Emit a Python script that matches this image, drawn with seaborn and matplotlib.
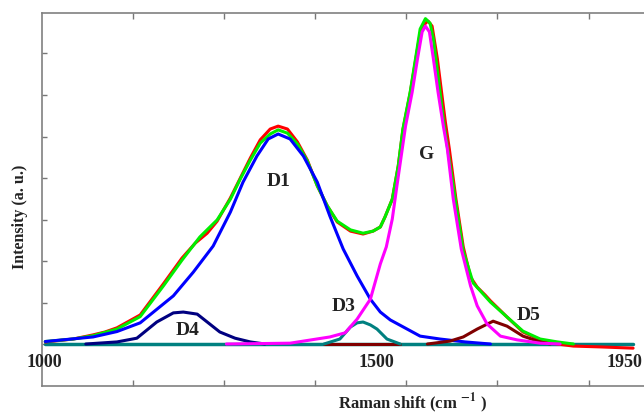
import numpy as np
import pandas as pd
import matplotlib
matplotlib.use('Agg')
import matplotlib.pyplot as plt
import seaborn as sns

# raman spectrum + band deconvolution
raman_x = [1005, 1047, 1077, 1095, 1113, 1148, 1183, 1211, 1231, 1249, 1264, 1284, 1299, 1314, 1329,
           1344, 1356, 1370, 1385, 1400, 1415, 1430, 1445, 1465, 1484, 1499, 1510, 1517, 1528, 1537,
           1544, 1555, 1563, 1570, 1578, 1582, 1588, 1596, 1603, 1608, 1614, 1624, 1635, 1646, 1656,
           1668, 1676, 1701, 1725, 1751, 1777, 1801, 1842, 1891]
raman_y = [0.05, 0.12, 0.22, 0.29, 0.39, 0.70, 1.45, 2.07, 2.43, 2.67, 2.96, 3.52, 4.00, 4.48, 4.92,
           5.18, 5.25, 5.18, 4.87, 4.43, 3.81, 3.33, 2.94, 2.72, 2.65, 2.72, 2.82, 3.06, 3.49, 4.29,
           5.16, 6.05, 6.82, 7.49, 7.73, 7.78, 7.66, 6.87, 5.98, 5.35, 4.70, 3.49, 2.34, 1.61, 1.37,
           1.18, 1.04, 0.65, 0.29, 0.10, 0.00, -0.05, -0.07, -0.10]

fit_x = [1005, 1047, 1077, 1113, 1148, 1183, 1211, 1238, 1264, 1284, 1299, 1314, 1329, 1344, 1356,
         1370, 1385, 1400, 1415, 1430, 1445, 1465, 1484, 1499, 1510, 1517, 1528, 1537, 1544, 1555,
         1563, 1570, 1578, 1585, 1590, 1597, 1605, 1612, 1623, 1635, 1650, 1676, 1701, 1725, 1751,
         1777, 1801]
fit_y = [0.06, 0.12, 0.20, 0.36, 0.66, 1.40, 2.02, 2.58, 2.99, 3.49, 3.98, 4.43, 4.84, 5.06, 5.16,
         5.08, 4.82, 4.41, 3.81, 3.33, 2.96, 2.75, 2.67, 2.72, 2.82, 3.06, 3.49, 4.29, 5.18, 6.07,
         6.87, 7.59, 7.84, 7.73, 7.35, 6.46, 5.42, 4.65, 3.49, 2.24, 1.47, 1.01, 0.65, 0.31, 0.12,
         0.05, 0.00]

d1_x = [1005, 1077, 1113, 1148, 1198, 1228, 1258, 1284, 1303, 1324, 1341, 1356, 1374, 1394, 1415,
        1434, 1454, 1475, 1495, 1510, 1525, 1570, 1600, 1638, 1676]
d1_y = [0.06, 0.17, 0.30, 0.51, 1.16, 1.73, 2.36, 3.18, 3.90, 4.53, 4.94, 5.06, 4.94, 4.53, 3.90,
        3.08, 2.29, 1.64, 1.08, 0.77, 0.58, 0.19, 0.12, 0.05, 0.00]

g_x = [1278, 1374, 1434, 1457, 1475, 1495, 1510, 1519, 1528, 1535, 1548, 1558, 1566, 1573, 1578,
       1584, 1590, 1597, 1605, 1611, 1620, 1632, 1646, 1656, 1671, 1691, 1716, 1751, 1781]
g_y = [0.00, 0.02, 0.17, 0.27, 0.60, 1.08, 1.93, 2.34, 3.01, 3.81, 5.25, 6.07, 6.87, 7.52, 7.66,
       7.52, 6.87, 6.07, 5.25, 4.70, 3.49, 2.29, 1.40, 0.92, 0.48, 0.19, 0.10, 0.02, 0.00]

d3_x = [1425, 1439, 1449, 1465, 1475, 1484, 1495, 1505, 1520, 1540]
d3_y = [0.00, 0.07, 0.12, 0.41, 0.51, 0.53, 0.46, 0.36, 0.12, 0.00]

d4_x = [1066, 1113, 1143, 1173, 1198, 1213, 1234, 1253, 1268, 1291, 1314, 1336]
d4_y = [0.00, 0.05, 0.14, 0.53, 0.75, 0.77, 0.72, 0.48, 0.29, 0.14, 0.05, 0.00]

d5_x = [1581, 1615, 1635, 1656, 1680, 1701, 1725, 1751, 1766]
d5_y = [0.00, 0.07, 0.17, 0.36, 0.55, 0.43, 0.19, 0.05, 0.00]

base_x = [1005, 1891]
base_y = [0.0, 0.0]
d5_base_x = [1425, 1540]
d5_base_y = [0.0, 0.0]

peak_names = ['D1', 'G', 'D3', 'D4', 'D5']
peak_label_x = [1356, 1579, 1454, 1219, 1733]
peak_label_y = [3.93, 4.58, 0.92, 0.36, 0.70]

xtick_text = ['1000', '1500', '1950']
xtick_text_x = [1003, 1504, 1878]

sns.set_style('ticks')
plt.rcParams['font.family'] = ['Liberation Serif', 'DejaVu Serif']
plt.rcParams['mathtext.fontset'] = 'stix'

fig = plt.figure(figsize=(6.44, 4.14), dpi=100)
ax = fig.add_axes([0.0652, 0.0652, 0.991, 0.901])

lw = 2.2
sns.lineplot(x=base_x, y=base_y, color='#008080', lw=2.5, ax=ax, zorder=2)
sns.lineplot(x=d5_base_x, y=d5_base_y, color='#800000', lw=lw, ax=ax, zorder=2)
sns.lineplot(x=raman_x, y=raman_y, color='#ff0000', lw=lw, ax=ax, zorder=3)
sns.lineplot(x=fit_x, y=fit_y, color='#00ee00', lw=lw, ax=ax, zorder=4)
sns.lineplot(x=d1_x, y=d1_y, color='#0000ff', lw=lw, ax=ax, zorder=5)
sns.lineplot(x=d4_x, y=d4_y, color='#000080', lw=lw, ax=ax, zorder=5)
sns.lineplot(x=d3_x, y=d3_y, color='#008080', lw=lw, ax=ax, zorder=5)
sns.lineplot(x=d5_x, y=d5_y, color='#800000', lw=lw, ax=ax, zorder=5)
sns.lineplot(x=g_x, y=g_y, color='#ff00ff', lw=lw, ax=ax, zorder=6)

for name, px, py in zip(peak_names, peak_label_x, peak_label_y):
    ax.text(px, py, name, fontsize=14, fontweight='bold', ha='center', va='center', color='#222222')

for lab, px in zip(xtick_text, xtick_text_x):
    ax.text(px, -0.41, lab, fontsize=13, fontweight='bold', ha='center', va='center', color='#222222')

ax.set_xlim(1000, 1962)
ax.set_ylim(-1.012, 7.976)
ax.set_xticks([1000 + 137.3 * k for k in range(1, 7)])
ax.set_yticks(range(0, 8))
ax.tick_params(axis='x', which='both', direction='in', length=4, width=1, colors='#777777',
               top=True, bottom=True, labelbottom=False)
ax.tick_params(axis='y', direction='in', length=3.5, width=1, colors='#777777', labelleft=False)
for side in ['left', 'right', 'top', 'bottom']:
    ax.spines[side].set_visible(True)
    ax.spines[side].set_color('#808080')
    ax.spines[side].set_linewidth(1.2)
ax.set_xlabel('')
ax.set_ylabel('')

fig.text(20 / 644, 1 - 217 / 414, 'Intensity (a. u.)', rotation=90, fontsize=11.5,
         fontweight='bold', ha='center', va='center', color='#222222')
fig.text(413 / 644, 1 - 403 / 414, r'Raman shift (cm $^{\mathbf{-1}}$ )', fontsize=12,
         fontweight='bold', ha='center', va='center', color='#222222')

fig.savefig('out.png', dpi=100)
